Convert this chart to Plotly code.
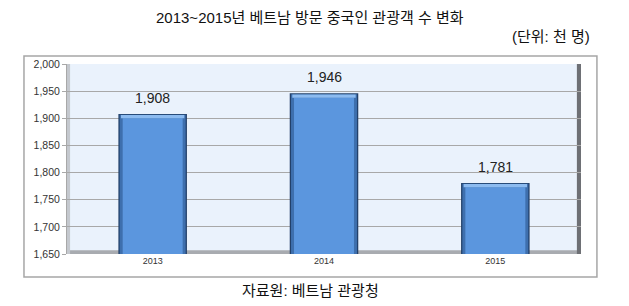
import plotly.graph_objects as go

categories = ["2013", "2014", "2015"]
values = [1908, 1946, 1781]
value_labels = ["1,908", "1,946", "1,781"]
y_ticks = [1650, 1700, 1750, 1800, 1850, 1900, 1950, 2000]
y_tick_labels = ["1,650", "1,700", "1,750", "1,800", "1,850", "1,900", "1,950", "2,000"]

title_text = "2013~2015년 베트남 방문 중국인 관광객 수 변화"
unit_text = "(단위: 천 명)"
source_text = "자료원: 베트남 관광청"

KFONT = "Arial, 'Liberation Sans', 'Noto Sans CJK KR', sans-serif"

fig = go.Figure()

# dark outline bar
fig.add_trace(go.Bar(
    x=categories, y=[v - 1650 for v in values], base=1650, width=0.40,
    marker=dict(color="#22406A", line=dict(width=0)), hoverinfo="skip",
))
# side bevel
fig.add_trace(go.Bar(
    x=categories, y=[v - 1650 - 1.5 for v in values], base=1650, width=0.385,
    marker=dict(color="#3E6FAD", line=dict(width=0)), hoverinfo="skip",
))
# main face
fig.add_trace(go.Bar(
    x=categories, y=[v - 1650 - 8 for v in values], base=1650, width=0.35,
    marker=dict(color="#5B96DE", line=dict(width=0)), hoverinfo="skip",
))
# top highlight
fig.add_trace(go.Bar(
    x=categories, y=[6 for v in values], base=[v - 8 for v in values], width=0.37,
    marker=dict(color="#8CBBF0", line=dict(width=0)), hoverinfo="skip",
))

shapes = [
    dict(type="rect", xref="paper", yref="paper", x0=-0.0837, x1=1.031, y0=-0.121, y1=1.042,
         line=dict(color="#A6A6A6", width=1.5), fillcolor="rgba(0,0,0,0)", layer="below"),
    dict(type="rect", xref="paper", yref="paper", x0=0, x1=1, y0=0, y1=0.02,
         line=dict(width=0), fillcolor="#A8ABB0", layer="below"),
    dict(type="rect", xref="paper", yref="paper", x0=0, x1=0.006, y0=0, y1=1,
         line=dict(width=0), fillcolor="#C4C8CE", layer="below"),
    dict(type="rect", xref="paper", yref="paper", x0=0.992, x1=1.0, y0=0, y1=1,
         line=dict(width=0), fillcolor="#6E7075", layer="below"),
]

plot_w = 629 - 67 - 48
plot_h = 306 - 64 - 52

annotations = [
    dict(text=title_text, xref="paper", yref="paper", x=(310 - 67) / plot_w, y=1 + (64 - 18) / plot_h,
         xanchor="center", yanchor="middle", showarrow=False,
         font=dict(size=15, color="#111111", family=KFONT)),
    dict(text=unit_text, xref="paper", yref="paper", x=(592 - 67) / plot_w, y=1 + (64 - 36) / plot_h,
         xanchor="right", yanchor="middle", showarrow=False,
         font=dict(size=15, color="#111111", family=KFONT)),
    dict(text=source_text, xref="paper", yref="paper", x=(310 - 67) / plot_w, y=-(290 - 254) / plot_h,
         xanchor="center", yanchor="middle", showarrow=False,
         font=dict(size=15, color="#111111", family=KFONT)),
]
for i, (v, lab) in enumerate(zip(values, value_labels)):
    annotations.append(dict(text=lab, x=i, y=v, xref="x", yref="y", yshift=16,
                            yanchor="middle", showarrow=False,
                            font=dict(size=14, color="#222222", family=KFONT)))

fig.update_layout(
    width=629, height=306,
    margin=dict(l=67, r=48, t=64, b=52),
    paper_bgcolor="white",
    plot_bgcolor="#EAF2FC",
    barmode="overlay",
    showlegend=False,
    shapes=shapes,
    annotations=annotations,
    font=dict(family=KFONT, color="#333333"),
    xaxis=dict(
        type="category", showgrid=False, zeroline=False, showline=False,
        range=[-0.5, len(categories) - 0.5],
        tickfont=dict(size=9, color="#333333", family=KFONT),
        ticks="", fixedrange=True,
    ),
    yaxis=dict(
        range=[1650, 2000], tickvals=y_ticks, ticktext=y_tick_labels,
        showgrid=True, gridcolor="#A8A8A8", gridwidth=1, zeroline=False,
        showline=True, linecolor="#A8A8A8", ticks="outside", ticklen=4, tickcolor="#A8A8A8",
        tickfont=dict(size=10.5, color="#333333", family=KFONT),
    ),
)

fig.write_html("out.html")
